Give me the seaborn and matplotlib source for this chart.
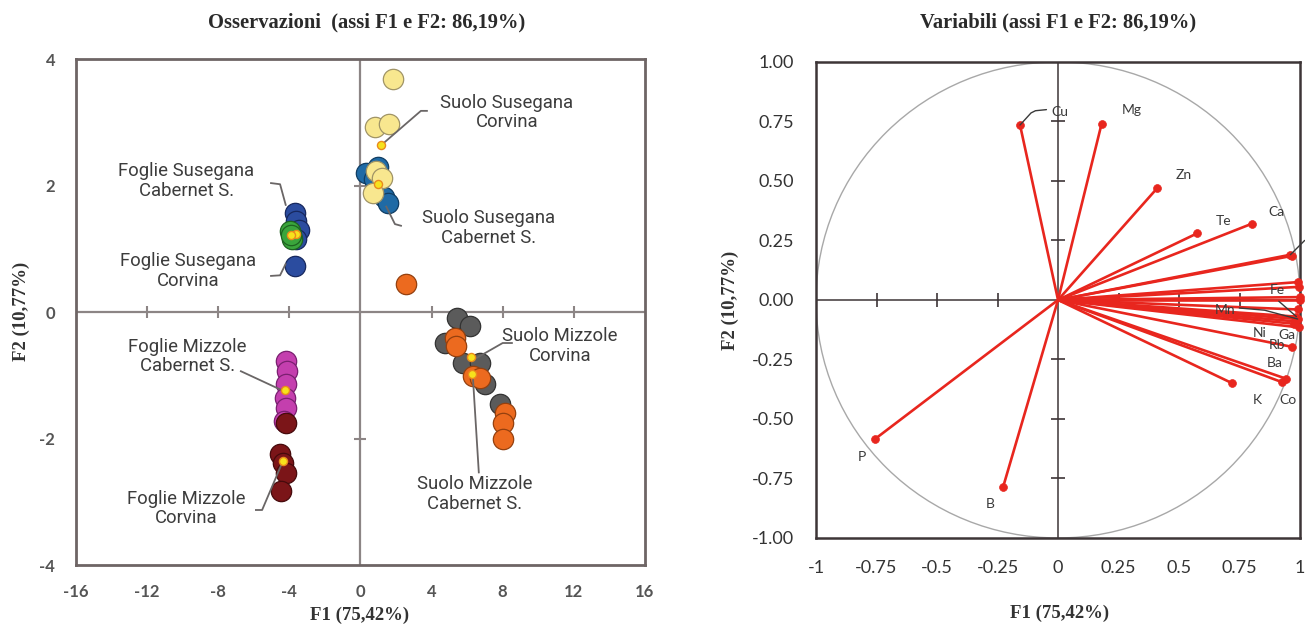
import numpy as np
import pandas as pd
import matplotlib
matplotlib.use("Agg")
import matplotlib.pyplot as plt
from matplotlib.patches import Circle
import seaborn as sns

# ---------------- observation scores (F1, F2) ----------------
suolo_sus_cab_f1 = [0.3, 1.0, 0.75, 1.35, 1.55]
suolo_sus_cab_f2 = [2.2, 2.3, 2.1, 1.82, 1.72]
suolo_sus_cor_f1 = [1.83, 0.81, 1.6, 0.85, 1.2, 0.7]
suolo_sus_cor_f2 = [3.68, 2.92, 2.97, 2.23, 2.12, 1.88]
foglie_sus_cab_f1 = [-3.7, -3.6, -3.45, -3.6, -3.7]
foglie_sus_cab_f2 = [1.57, 1.44, 1.3, 1.15, 0.72]
foglie_sus_cor_f1 = [-3.95, -3.85, -3.9]
foglie_sus_cor_f2 = [1.28, 1.15, 1.22]
foglie_miz_cab_f1 = [-4.2, -4.15, -4.2, -4.25, -4.2, -4.3]
foglie_miz_cab_f2 = [-0.77, -0.93, -1.14, -1.36, -1.52, -1.72]
foglie_miz_cor_f1 = [-4.2, -4.5, -4.35, -4.2, -4.45]
foglie_miz_cor_f2 = [-1.75, -2.25, -2.38, -2.55, -2.83]
suolo_miz_cor_f1 = [5.42, 6.15, 4.75, 5.76, 6.71, 7.0, 7.84]
suolo_miz_cor_f2 = [-0.09, -0.22, -0.49, -0.80, -0.80, -1.14, -1.46]
suolo_miz_cab_f1 = [2.56, 5.3, 5.35, 6.32, 6.7, 8.12, 8.0, 8.0]
suolo_miz_cab_f2 = [0.44, -0.41, -0.53, -1.01, -1.04, -1.6, -1.75, -2.0]

group_names = [
    "Suolo Susegana Cabernet S.", "Suolo Susegana Corvina",
    "Foglie Susegana Cabernet S.", "Foglie Susegana Corvina",
    "Foglie Mizzole Cabernet S.", "Foglie Mizzole Corvina",
    "Suolo Mizzole Corvina", "Suolo Mizzole Cabernet S.",
]
group_f1 = [suolo_sus_cab_f1, suolo_sus_cor_f1, foglie_sus_cab_f1, foglie_sus_cor_f1,
            foglie_miz_cab_f1, foglie_miz_cor_f1, suolo_miz_cor_f1, suolo_miz_cab_f1]
group_f2 = [suolo_sus_cab_f2, suolo_sus_cor_f2, foglie_sus_cab_f2, foglie_sus_cor_f2,
            foglie_miz_cab_f2, foglie_miz_cor_f2, suolo_miz_cor_f2, suolo_miz_cab_f2]

# ---------------- variable loadings (F1, F2) ----------------
var_names = ["Cu", "Mg", "Zn", "Te", "Ca", "Fe", "Mn", "Ni", "Ga", "Rb", "Ba", "Co", "K", "P", "B"]
var_f1 = [-0.157, 0.18, 0.41, 0.575, 0.80, 0.985, 0.99, 0.975, 0.995, 0.967, 0.925, 0.94, 0.72, -0.756, -0.227]
var_f2 = [0.735, 0.74, 0.47, 0.28, 0.32, -0.07, -0.08, -0.10, -0.115, -0.197, -0.345, -0.33, -0.35, -0.584, -0.786]
# further loadings crowded against the right border (labels fall outside the frame)
extra_f1 = [0.96, 0.965, 0.99, 0.995, 1.0, 0.998, 0.99, 0.98]
extra_f2 = [0.19, 0.185, 0.075, 0.055, 0.012, 0.0, -0.04, -0.09]

x_ticks_obs = [-16, -12, -8, -4, 0, 4, 8, 12, 16]
y_ticks_obs = [-4, -2, 0, 2, 4]
x_ticks_var = [-1, -0.75, -0.5, -0.25, 0, 0.25, 0.5, 0.75, 1]
x_ticklabels_var = ["-1", "-0.75", "-0.5", "-0.25", "0", "0.25", "0.5", "0.75", "1"]
y_ticks_var = [-1, -0.75, -0.5, -0.25, 0, 0.25, 0.5, 0.75, 1]

# ---------------- styling ----------------
face = {
    "Suolo Susegana Cabernet S.": "#1f6aa5",
    "Suolo Susegana Corvina": "#f8e78f",
    "Foglie Susegana Cabernet S.": "#2b4c9f",
    "Foglie Susegana Corvina": "#3aa53c",
    "Foglie Mizzole Cabernet S.": "#c43fae",
    "Foglie Mizzole Corvina": "#7b1518",
    "Suolo Mizzole Corvina": "#5b5b5b",
    "Suolo Mizzole Cabernet S.": "#ec6a1f",
}
edge = {
    "Suolo Susegana Cabernet S.": "#103d63",
    "Suolo Susegana Corvina": "#a09466",
    "Foglie Susegana Cabernet S.": "#17285e",
    "Foglie Susegana Corvina": "#1e6320",
    "Foglie Mizzole Cabernet S.": "#7a2070",
    "Foglie Mizzole Corvina": "#460a0c",
    "Suolo Mizzole Corvina": "#333333",
    "Suolo Mizzole Cabernet S.": "#94400f",
}

sns.set_theme(style="white")
plt.rcParams["font.family"] = ["Lato", "DejaVu Sans"]

fig = plt.figure(figsize=(13.05, 6.29), dpi=100)
ax1 = fig.add_axes([0.0582, 0.1017, 0.4360, 0.8045])
ax2 = fig.add_axes([0.6253, 0.1447, 0.3709, 0.7568])

# ================= observations =================
rows = []
for name, f1, f2 in zip(group_names, group_f1, group_f2):
    for a, b in zip(f1, f2):
        rows.append({"gruppo": name, "F1": a, "F2": b})
obs = pd.DataFrame(rows)

ax1.axhline(0, color="#8c8585", lw=1.6, zorder=1)
ax1.axvline(0, color="#8c8585", lw=1.6, zorder=1)
inner_x = [t for t in x_ticks_obs if t not in (0, -16, 16)]
inner_y = [t for t in y_ticks_obs if t not in (0, -4, 4)]
ax1.plot(inner_x, [0] * len(inner_x), ls="none", marker="|", ms=9, mew=1.5, color="#8c8585", zorder=1)
ax1.plot([0] * len(inner_y), inner_y, ls="none", marker="_", ms=9, mew=1.5, color="#8c8585", zorder=1)

for name in group_names:
    sub = obs[obs["gruppo"] == name]
    sns.scatterplot(data=sub, x="F1", y="F2", ax=ax1, s=215, color=face[name],
                    edgecolor=edge[name], linewidth=0.9, zorder=3, legend=False)

centroids = obs.groupby("gruppo", sort=False)[["F1", "F2"]].mean().reset_index()
sns.scatterplot(data=centroids, x="F1", y="F2", ax=ax1, s=34, color="#f6e21c",
                edgecolor="#e98a1c", linewidth=1.0, zorder=5, legend=False)

# group labels with leader lines
obs_labels = [
    ("Suolo Susegana\nCorvina", (8.23, 3.15), [(3.79, 3.18), (3.4, 3.18), (1.26, 2.66)]),
    ("Suolo Susegana\nCabernet S.", (7.22, 1.33), [(2.33, 1.36), (1.94, 1.39), (1.43, 1.68)]),
    ("Foglie Susegana\nCabernet S.", (-9.8, 2.07), [(-5.08, 2.04), (-4.52, 2.02), (-4.19, 1.68)]),
    ("Foglie Susegana\nCorvina", (-9.69, 0.65), [(-5.08, 0.57), (-4.52, 0.58), (-4.19, 0.77)]),
    ("Foglie Mizzole\nCabernet S.", (-9.75, -0.70), [(-6.77, -0.93), (-4.24, -1.26)]),
    ("Foglie Mizzole\nCorvina", (-9.8, -3.11), [(-5.93, -3.13), (-5.53, -3.13), (-4.41, -2.39)]),
    ("Suolo Mizzole\nCorvina", (11.21, -0.54), [(8.57, -0.49), (8.0, -0.49), (6.32, -0.76)]),
    ("Suolo Mizzole\nCabernet S.", (6.43, -2.88), [(6.66, -2.55), (6.32, -1.01)]),
]
for text, (tx, ty), path in obs_labels:
    px, py = zip(*path)
    ax1.plot(px, py, color="#6a6666", lw=1.3, zorder=4, solid_capstyle="butt")
    ax1.text(tx, ty, text, ha="center", va="center", fontsize=13.3, color="#3c3c3c",
             family=["Roboto", "DejaVu Sans"], linespacing=1.1, zorder=6)

ax1.set_xlim(-16, 16)
ax1.set_ylim(-4, 4)
ax1.set_xticks(x_ticks_obs)
ax1.set_yticks(y_ticks_obs)
ax1.set_xticklabels([str(t) for t in x_ticks_obs])
ax1.set_yticklabels([str(t) for t in y_ticks_obs])
ax1.tick_params(length=0, labelsize=12, labelcolor="#555555")
ax1.tick_params(axis="x", pad=14)
ax1.tick_params(axis="y", pad=15)
for lab in ax1.get_xticklabels() + ax1.get_yticklabels():
    lab.set_fontweight("bold")
ax1.set_xlabel("")
ax1.set_ylabel("")
for sp in ax1.spines.values():
    sp.set_color("#6e6565")
    sp.set_linewidth(2)

# ================= variables =================
ax2.add_patch(Circle((0, 0), 1, fill=False, ec="#a8a8a8", lw=1.0, zorder=1))
ax2.axhline(0, color="#3d3537", lw=1.1, zorder=1)
ax2.axvline(0, color="#3d3537", lw=1.1, zorder=1)
inner = [t for t in x_ticks_var if t not in (0, -1, 1)]
ax2.plot(inner, [0] * len(inner), ls="none", marker="|", ms=10, mew=1.2, color="#3d3537", zorder=1)
ax2.plot([0] * len(inner), inner, ls="none", marker="_", ms=10, mew=1.2, color="#3d3537", zorder=1)

red = "#e8261e"
for a, b in zip(extra_f1 + var_f1, extra_f2 + var_f2):
    ax2.plot([0, a], [0, b], color=red, lw=1.9, zorder=2, solid_capstyle="round")
loadings = pd.DataFrame({"F1": var_f1 + extra_f1, "F2": var_f2 + extra_f2})
sns.scatterplot(data=loadings, x="F1", y="F2", ax=ax2, s=32, color=red,
                edgecolor=red, linewidth=0.5, zorder=3, legend=False, clip_on=False)

# label offsets in pixels, optional leader path (pixel offsets from the point)
var_layout = {
    "Cu": ((40, 13), [(0, 0), (10, 11), (14, 13), (24, 14)]),
    "Mg": ((30, 14), None),
    "Zn": ((26, 13), None),
    "Te": ((26, 12), None),
    "Ca": ((25, 12), None),
    "Fe": ((-19, 27), [(0, 0), (-16, 14)]),
    "Mn": ((-73, 9), [(0, 0), (-30, 8), (-53, 10)]),
    "Ni": ((-34, -9), None),
    "Ga": ((-12, -8), None),
    "Rb": ((-15, 2), None),
    "Ba": ((-7, 19), None),
    "Co": ((2, -21), None),
    "K": ((25, -17), None),
    "P": ((-13, -18), None),
    "B": ((-13, -17), None),
}
trans = ax2.transData
for name, a, b in zip(var_names, var_f1, var_f2):
    (dx, dy), path = var_layout[name]
    if path:
        x0, y0 = trans.transform((a, b))
        inv = trans.inverted()
        pts = [inv.transform((x0 + ox, y0 + oy)) for ox, oy in path]
        px, py = zip(*pts)
        ax2.plot(px, py, color="#3a3a3a", lw=1.0, zorder=4, clip_on=False)
    ax2.annotate(name, (a, b), xytext=(dx, dy), textcoords="offset pixels",
                 ha="center", va="center", fontsize=10, color="#3a3a3a", zorder=5,
                 annotation_clip=False)
# leader of the loading whose label lies beyond the right border
x0, y0 = trans.transform((extra_f1[0], extra_f2[0]))
pts = [trans.inverted().transform(p) for p in [(x0, y0), (x0 + 13, y0 + 13)]]
px, py = zip(*pts)
ax2.plot(px, py, color="#3a3a3a", lw=1.0, zorder=4, clip_on=False)

ax2.set_xlim(-1, 1)
ax2.set_ylim(-1, 1)
ax2.set_xticks(x_ticks_var)
ax2.set_xticklabels(x_ticklabels_var)
ax2.set_yticks(y_ticks_var)
ax2.set_yticklabels([f"{t:.2f}" for t in y_ticks_var])
ax2.tick_params(length=0, labelsize=13, labelcolor="#333333")
ax2.tick_params(axis="x", pad=16)
ax2.tick_params(axis="y", pad=16)
ax2.set_xlabel("")
ax2.set_ylabel("")
for sp in ax2.spines.values():
    sp.set_color("#3d3537")
    sp.set_linewidth(1.8)

# ================= titles and axis names =================
serif = ["Liberation Serif", "DejaVu Serif"]
fig.text(367 / 1305, 1 - 22 / 629, "Osservazioni  (assi F1 e F2: 86,19%)", ha="center", va="center",
         fontsize=14.8, fontweight="bold", family=serif, color="#2a2a2a")
fig.text(1058 / 1305, 1 - 22 / 629, "Variabili (assi F1 e F2: 86,19%)", ha="center", va="center",
         fontsize=14.8, fontweight="bold", family=serif, color="#2a2a2a")
fig.text(360 / 1305, 1 - 615 / 629, "F1 (75,42%)", ha="center", va="center",
         fontsize=13.5, fontweight="bold", family=serif, color="#333333")
fig.text(1060 / 1305, 1 - 613 / 629, "F1 (75,42%)", ha="center", va="center",
         fontsize=13.5, fontweight="bold", family=serif, color="#333333")
fig.text(21 / 1305, 1 - 311 / 629, "F2 (10,77%)", ha="center", va="center", rotation=90,
         fontsize=13.5, fontweight="bold", family=serif, color="#333333")
fig.text(730 / 1305, 1 - 300 / 629, "F2 (10,77%)", ha="center", va="center", rotation=90,
         fontsize=13.5, fontweight="bold", family=serif, color="#333333")

fig.savefig("out.png", dpi=100, facecolor="white")
